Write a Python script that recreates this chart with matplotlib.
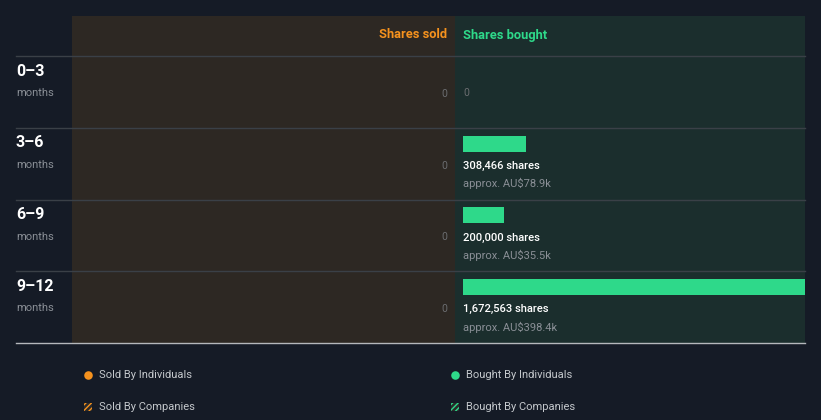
import matplotlib
matplotlib.use("Agg")
import matplotlib.pyplot as plt
from matplotlib.patches import Rectangle

plt.rcParams['font.family'] = ['Roboto', 'DejaVu Sans']

periods = ['0–3', '3–6', '6–9', '9–12']
sold = [0, 0, 0, 0]
bought = [0, 308466, 200000, 1672563]
bought_value = [None, 'AU$78.9k', 'AU$35.5k', 'AU$398.4k']

BG = '#151b26'
SOLD_BG = '#2d2823'
BOUGHT_BG = '#1b2e2d'
GREEN = '#2ed98a'
ORANGE = '#f5921e'
GRAY = '#8a8f96'
LINE = '#3a4047'

W, H = 821, 420
fig = plt.figure(figsize=(W / 100, H / 100), dpi=100)
fig.patch.set_facecolor(BG)

# whole-figure axes in pixel coordinates for layout
ax = fig.add_axes([0, 0, 1, 1])
ax.set_xlim(0, W)
ax.set_ylim(H, 0)
ax.axis('off')

top, head, bottom = 16, 56, 343
left, mid, right = 72, 455, 805
row_h = (bottom - head) / len(periods)

ax.add_patch(Rectangle((left, top), mid - left, bottom - top, color=SOLD_BG, lw=0))
ax.add_patch(Rectangle((mid, top), right - mid, bottom - top, color=BOUGHT_BG, lw=0))

ax.text(447, 35, 'Shares sold', color=ORANGE, fontsize=9.3, fontweight='bold',
        ha='right', va='center')
ax.text(463, 35, 'Shares bought', color=GREEN, fontsize=9.3, fontweight='bold',
        ha='left', va='center')

for i, p in enumerate(periods):
    y0 = head + i * row_h
    ax.plot([16, right], [y0, y0], color=LINE, lw=1)
    ax.text(16, y0 + 15, p, color='white', fontsize=11.5, fontweight='bold',
            ha='left', va='center')
    ax.text(16, y0 + 37, 'months', color=GRAY, fontsize=8, ha='left', va='center')
    ax.text(447, y0 + 38, f'{sold[i]:,}', color='#6b6d70', fontsize=7.5,
            ha='right', va='center')
ax.plot([16, right], [bottom, bottom], color='#b5b8bc', lw=1)

# bought bars axes
bax = fig.add_axes([463 / W, 1 - bottom / H, (right - 463) / W, (bottom - head) / H])
bax.set_xlim(0, max(bought))
bax.set_ylim(len(periods), 0)
bax.axis('off')
for i, v in enumerate(bought):
    if v > 0:
        bax.barh(i + 0.111, v, height=0.222, color=GREEN, align='edge', lw=0)
        bax.text(0, i + 0.53, f'{v:,} shares', color='white', fontsize=8,
                 fontweight='medium', ha='left', va='center', clip_on=False)
        bax.text(0, i + 0.78, f'approx. {bought_value[i]}', color=GRAY, fontsize=8,
                 ha='left', va='center', clip_on=False)
    else:
        bax.text(0, i + 0.52, '0', color='#6b6d70', fontsize=7.5,
                 ha='left', va='center', clip_on=False)

# legend
legend = [('Sold By Individuals', ORANGE, None, 88, 375),
          ('Bought By Individuals', GREEN, None, 455, 375),
          ('Sold By Companies', ORANGE, '//////', 88, 407),
          ('Bought By Companies', GREEN, '//////', 455, 407)]
for label, c, hatch, x, y in legend:
    if hatch is None:
        ax.scatter([x], [y], s=38, color=c, lw=0)
    else:
        plt.rcParams['hatch.color'] = c
        ax.add_patch(Rectangle((x - 4, y - 4), 8, 8, facecolor='#2a2a2a', edgecolor=c,
                               hatch=hatch, lw=0))
    ax.text(x + 11, y, label, color='#c4c8cc', fontsize=8, ha='left', va='center')

fig.savefig('out.png', dpi=100, facecolor=BG)
